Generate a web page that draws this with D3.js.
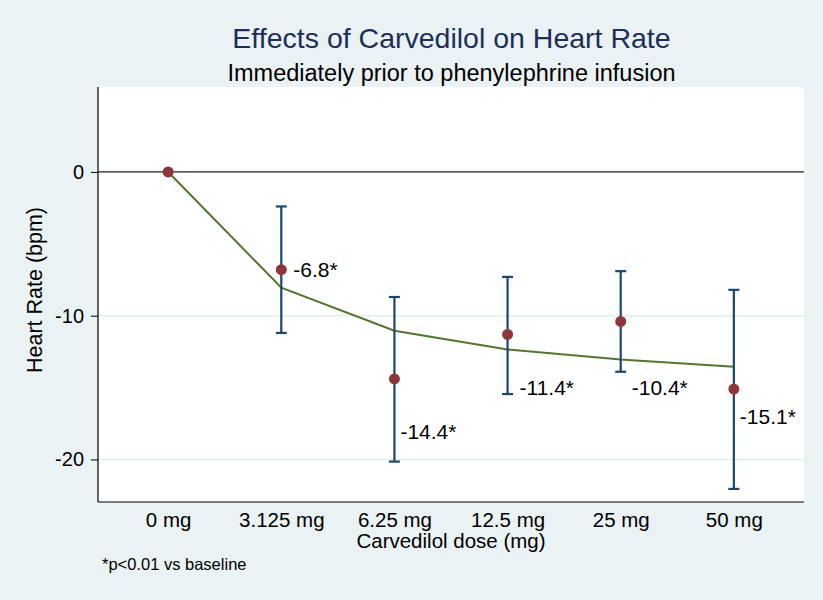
<!DOCTYPE html>
<html><head><meta charset="utf-8">
<script src="https://cdn.jsdelivr.net/npm/d3@7"></script>
<style>body{margin:0;background:#eaf2f3;}svg{display:block;font-family:"Liberation Sans",Arial,sans-serif;}</style>
</head><body><svg id="c" width="823" height="600"></svg>
<script>
const doses = ["0 mg","3.125 mg","6.25 mg","12.5 mg","25 mg","50 mg"];
const meanChange = [0, -6.8, -14.4, -11.3, -10.4, -15.1];
const ciLower = [null, -11.2, -20.15, -15.45, -13.9, -22.05];
const ciUpper = [null, -2.4, -8.7, -7.3, -6.9, -8.2];
const fitted = [0, -8.05, -11.05, -12.35, -13.05, -13.55];
const pointLabels = ["", "-6.8*", "-14.4*", "-11.4*", "-10.4*", "-15.1*"];
const yTicks = [0, -10, -20];
// label placement offsets (pixels from marker)
const labelOffsets = [[0,0],[12,0],[6,53],[12,53],[11,66],[6,28]];

const FONT = "Liberation Sans, Arial, sans-serif";
const svg = d3.select("#c");
const W = 823, H = 600;
svg.append("rect").attr("width",W).attr("height",H).attr("fill","#eaf2f3");
const L = 98, R = 804, T = 87, B = 502;
svg.append("rect").attr("x",L).attr("y",T).attr("width",R-L).attr("height",B-T).attr("fill","#ffffff");

const x = d3.scalePoint().domain(doses).range([L,R]).padding(0.62);
const y = d3.scaleLinear().domain([-22.96, 5.91]).range([B,T]);

// grid
svg.append("g").selectAll("line").data(yTicks).join("line")
  .attr("x1",L).attr("x2",R).attr("y1",d=>y(d)).attr("y2",d=>y(d))
  .attr("stroke","#e3eded").attr("stroke-width",1.5);
// zero reference line
svg.append("line").attr("x1",L).attr("x2",R).attr("y1",y(0)).attr("y2",y(0))
  .attr("stroke","#2a2a2a").attr("stroke-width",1.2);

// axes
const yAxis = svg.append("g").attr("transform",`translate(${L},0)`)
  .call(d3.axisLeft(y).tickValues(yTicks).tickSize(7).tickPadding(7).tickFormat(d=>String(d)));
yAxis.select(".domain").attr("stroke","#000").attr("stroke-width",1.2).attr("d",`M0,${T}V${B}`);
yAxis.selectAll(".tick line").attr("stroke","#000");
yAxis.selectAll("text").attr("font-size",20).attr("fill","#000").attr("font-family",FONT);

const xAxis = svg.append("g").attr("transform",`translate(0,${B})`)
  .call(d3.axisBottom(x).tickSize(0).tickPadding(0));
xAxis.select(".domain").attr("stroke","#000").attr("stroke-width",1.2).attr("d",`M${L},0H${R}`);
xAxis.selectAll("text").attr("font-size",20.5).attr("fill","#000").attr("font-family",FONT)
  .attr("dy",null).attr("y",24.5);

// fitted line
svg.append("path").datum(fitted)
  .attr("d", d3.line().x((d,i)=>x(doses[i])).y(d=>y(d)))
  .attr("fill","none").attr("stroke","#55752f").attr("stroke-width",2);

// error bars
const eb = svg.append("g").attr("stroke","#1a476f").attr("stroke-width",2.2).attr("fill","none");
doses.forEach((dz,i)=>{
  if (ciLower[i]===null) return;
  const cx = x(dz);
  eb.append("line").attr("x1",cx).attr("x2",cx).attr("y1",y(ciUpper[i])).attr("y2",y(ciLower[i]));
  eb.append("line").attr("x1",cx-5.5).attr("x2",cx+5.5).attr("y1",y(ciUpper[i])).attr("y2",y(ciUpper[i]));
  eb.append("line").attr("x1",cx-5.5).attr("x2",cx+5.5).attr("y1",y(ciLower[i])).attr("y2",y(ciLower[i]));
});

// markers
svg.append("g").selectAll("circle").data(meanChange).join("circle")
  .attr("cx",(d,i)=>x(doses[i])).attr("cy",d=>y(d)).attr("r",5.5)
  .attr("fill","#90353b");

// labels
svg.append("g").selectAll("text").data(pointLabels).join("text")
  .attr("x",(d,i)=>x(doses[i])+labelOffsets[i][0])
  .attr("y",(d,i)=>y(meanChange[i])+labelOffsets[i][1])
  .attr("dy","0.35em").attr("font-size",21).attr("fill","#000").text(d=>d);

// titles
svg.append("text").attr("x",451.5).attr("y",48).attr("text-anchor","middle")
  .attr("font-size",28.5).attr("fill","#1c2f5c").text("Effects of Carvedilol on Heart Rate");
svg.append("text").attr("x",451.5).attr("y",81).attr("text-anchor","middle")
  .attr("font-size",23.5).attr("fill","#000").text("Immediately prior to phenylephrine infusion");
svg.append("text").attr("transform",`translate(42,290) rotate(-90)`).attr("text-anchor","middle")
  .attr("font-size",21.5).attr("fill","#000").text("Heart Rate (bpm)");
svg.append("text").attr("x",451).attr("y",548).attr("text-anchor","middle")
  .attr("font-size",20.5).attr("fill","#000").text("Carvedilol dose (mg)");
svg.append("text").attr("x",102).attr("y",570)
  .attr("font-size",16.5).attr("fill","#000").text("*p<0.01 vs baseline");
</script></body></html>
